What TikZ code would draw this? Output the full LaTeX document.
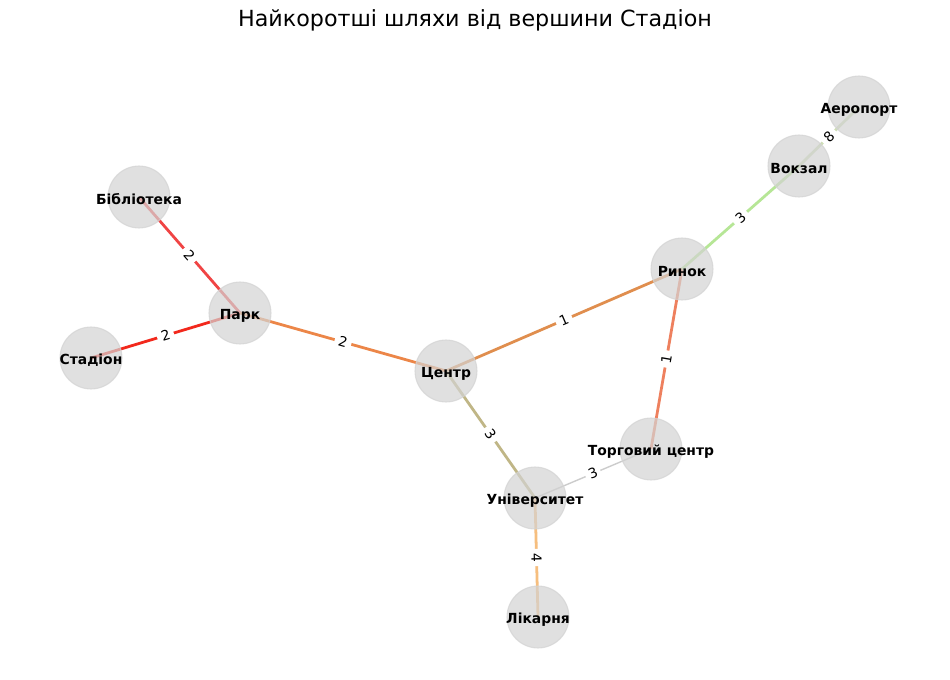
\documentclass[tikz,border=0pt]{standalone}
\usepackage{fontspec}
\setmainfont{DejaVu Sans}
\pgfdeclarelayer{bg}
\pgfdeclarelayer{edges}
\pgfsetlayers{bg,edges,main}
\definecolor{vgray}{RGB}{211,211,211}
\definecolor{cStPk}{RGB}{242,40,28}
\definecolor{cBiPk}{RGB}{240,68,68}
\definecolor{cPkCe}{RGB}{236,134,72}
\definecolor{cCeRi}{RGB}{224,142,78}
\definecolor{cCeUn}{RGB}{192,182,134}
\definecolor{cRiTc}{RGB}{238,128,94}
\definecolor{cUnLi}{RGB}{246,190,126}
\definecolor{cRiVo}{RGB}{182,230,150}
\definecolor{cVoAe}{RGB}{206,222,182}
\definecolor{cUnTc}{RGB}{204,204,204}
\tikzset{
  vert/.style={circle, minimum size=44.6bp, inner sep=0pt, fill=vgray, draw=vgray,
    fill opacity=0.7, draw opacity=0.7, line width=0.8bp},
  vlab/.style={font=\fontsize{10bp}{12bp}\selectfont\bfseries, text=black, text opacity=1,
    inner sep=0pt, yshift=-1.8bp},
  edge/.style={line width=2bp},
  thin edge/.style={line width=1bp},
  elab/.style={sloped, fill=white, draw=white, rounded corners=2bp, inner sep=2bp,
    font=\fontsize{10bp}{12bp}\selectfont, text=black}
}
\begin{document}
\begin{tikzpicture}[x=0.72bp, y=-0.72bp]
\begin{pgfonlayer}{bg}
  \fill[white] (0,0) rectangle (950,680);
\end{pgfonlayer}
\useasboundingbox (0,0) rectangle (950,680);

\node (title) at (475,20) {\fontsize{16bp}{19bp}\selectfont Найкоротші шляхи від вершини Стадіон};

\node[vert, label={[vlab]center:Стадіон}] (st) at (91,358) {};
\node[vert, label={[vlab]center:Бібліотека}] (bi) at (139,197) {};
\node[vert, label={[vlab]center:Парк}] (pk) at (240,313) {};
\node[vert, label={[vlab]center:Центр}] (ce) at (446,371) {};
\node[vert, label={[vlab]center:Ринок}] (ri) at (682,269) {};
\node[vert, label={[vlab]center:Вокзал}] (vo) at (799,166) {};
\node[vert, label={[vlab]center:Аеропорт}] (ae) at (859,107) {};
\node[vert, label={[vlab]center:Торговий центр}] (tc) at (651,449) {};
\node[vert, label={[vlab]center:Університет}] (un) at (535,498) {};
\node[vert, label={[vlab]center:Лікарня}] (li) at (538,617) {};

\begin{pgfonlayer}{edges}
  \draw[edge, cStPk] (st.center) -- node[elab] {2} (pk.center);
  \draw[edge, cBiPk] (bi.center) -- node[elab] {2} (pk.center);
  \draw[edge, cPkCe] (pk.center) -- node[elab] {2} (ce.center);
  \draw[edge, cCeRi] (ce.center) -- node[elab] {1} (ri.center);
  \draw[edge, cCeUn] (ce.center) -- node[elab] {3} (un.center);
  \draw[edge, cRiTc] (ri.center) -- node[elab] {1} (tc.center);
  \draw[edge, cUnLi] (un.center) -- node[elab] {4} (li.center);
  \draw[edge, cRiVo] (ri.center) -- node[elab] {3} (vo.center);
  \draw[edge, cVoAe] (vo.center) -- node[elab] {8} (ae.center);
  \draw[thin edge, cUnTc] (un.center) -- node[elab] {3} (tc.center);
\end{pgfonlayer}
\end{tikzpicture}
\end{document}
